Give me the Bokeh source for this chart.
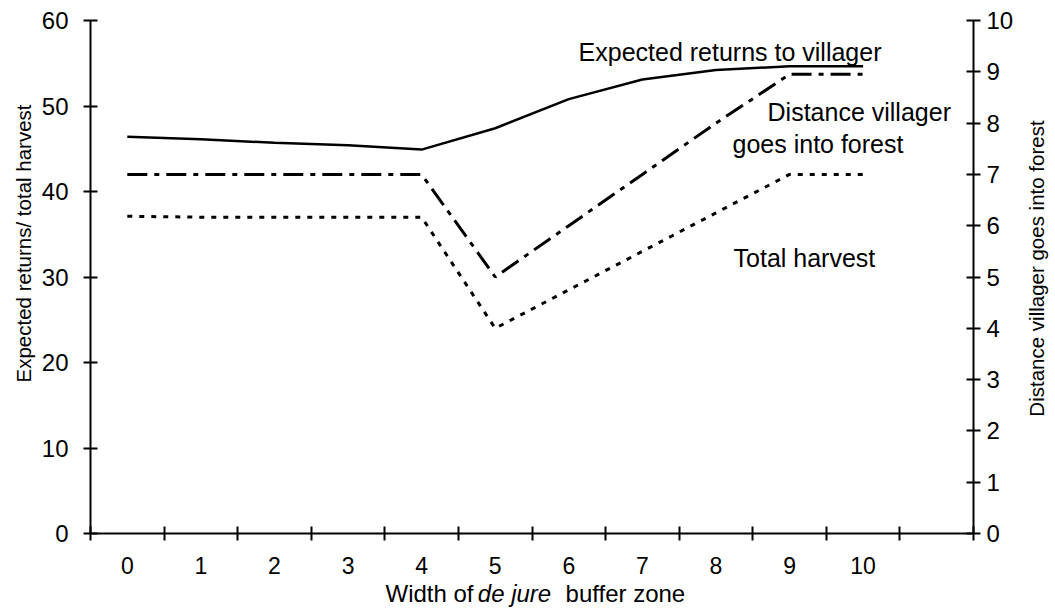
import math
from bokeh.plotting import figure
from bokeh.layouts import column
from bokeh.models import Range1d, LinearAxis, FixedTicker, Label
from bokeh.core.properties import value
from bokeh.embed import file_html
from bokeh.resources import INLINE

# ---- data ----
buffer_width = [0, 1, 2, 3, 4, 5, 6, 7, 8, 9, 10]
category_labels = ["0", "1", "2", "3", "4", "5", "6", "7", "8", "9", "10"]
expected_returns = [46.4, 46.1, 45.7, 45.4, 44.9, 47.4, 50.8, 53.1, 54.2, 54.65, 54.65]
total_harvest = [37.1, 37.0, 37.0, 37.0, 37.0, 24.0, 28.5, 33.0, 37.5, 42.0, 42.0]
distance_into_forest = [7, 7, 7, 7, 7, 5, 6, 7, 8, 8.95, 8.95]
left_ticks = [0, 10, 20, 30, 40, 50, 60]
right_ticks = [0, 1, 2, 3, 4, 5, 6, 7, 8, 9, 10]
x_title_parts = ["Width of", "de jure", "buffer zone"]

FONT = "Liberation Sans"

p = figure(width=1055, height=577, output_backend="svg", toolbar_location=None,
           x_range=Range1d(-0.5, 11.5), y_range=Range1d(0, 60),
           min_border_left=90, min_border_right=82, min_border_top=20, min_border_bottom=44)
p.outline_line_color = None
p.grid.visible = False
p.background_fill_color = "white"
p.border_fill_color = "white"

# x axis: labels at categories, ticks between categories
xa = p.xaxis[0]
xa.ticker = FixedTicker(ticks=buffer_width, minor_ticks=[i - 0.5 for i in range(13)])
xa.major_label_overrides = {float(v): s for v, s in zip(buffer_width, category_labels)}
xa.major_tick_in = 0
xa.major_tick_out = 0
xa.minor_tick_in = 7
xa.minor_tick_out = 7
xa.minor_tick_line_width = 2
xa.minor_tick_line_color = "black"
xa.axis_line_width = 2
xa.axis_line_color = "black"
xa.major_label_standoff = 16
xa.major_label_text_font = FONT
xa.major_label_text_font_size = "23px"
xa.major_label_text_color = "black"

# left y axis
ya = p.yaxis[0]
ya.ticker = FixedTicker(ticks=left_ticks)
ya.major_tick_in = 7
ya.major_tick_out = 7
ya.major_tick_line_width = 2
ya.minor_tick_line_color = None
ya.axis_line_width = 2
ya.major_label_standoff = 15
ya.major_label_text_font = FONT
ya.major_label_text_font_size = "24px"
ya.major_label_text_color = "black"

# right y axis
p.extra_y_ranges = {"dist": Range1d(0, 10)}
ra = LinearAxis(y_range_name="dist", ticker=FixedTicker(ticks=right_ticks))
ra.major_tick_in = 7
ra.major_tick_out = 7
ra.major_tick_line_width = 2
ra.minor_tick_line_color = None
ra.axis_line_width = 2
ra.major_label_standoff = 6
ra.major_label_text_font = FONT
ra.major_label_text_font_size = "24px"
ra.major_label_text_color = "black"
p.add_layout(ra, "right")

# series
p.line(buffer_width, expected_returns, line_color="black", line_width=2.5)
p.line(buffer_width, distance_into_forest, y_range_name="dist", line_color="black",
       line_width=3, line_dash="20 7 5 7")
p.line(buffer_width, total_harvest, line_color="black", line_width=3, line_dash="5 7")

def mk(x, y, text, size, align="left", angle=0.0, baseline="alphabetic", style="normal",
       units="data"):
    return Label(x=x, y=y, x_units=units, y_units=units, text=text,
                 text_font=FONT, text_font_size=size,
                 text_align=align, text_baseline=baseline, angle=angle,
                 text_color="black", text_font_style=style)

# in-plot annotations
p.add_layout(mk(8.191, 56.37, "Expected returns to villager", "25px", align="center"))
p.add_layout(mk(8.701, 49.24, "Distance villager", "25px"))
p.add_layout(mk(8.225, 45.61, "goes into forest", "25px"))
p.add_layout(mk(8.239, 32.22, "Total harvest", "25px"))

# rotated axis titles in the side panels (canvas pixel positions)
p.add_layout(mk(23, 243, "Expected returns/ total harvest", "20.5px", align="center",
                angle=math.pi / 2, baseline="middle", units="canvas"), "left")
p.add_layout(mk(1036, 268, "Distance villager goes into forest", "20.5px", align="center",
                angle=math.pi / 2, baseline="middle", units="canvas"), "right")

# x axis title strip (mixed roman / italic text), sharing the main x range
t = figure(width=1055, height=35, output_backend="svg", toolbar_location=None,
           x_range=p.x_range, y_range=Range1d(0, 35),
           x_axis_type=None, y_axis_type=None,
           min_border_left=90, min_border_right=82, min_border_top=0, min_border_bottom=0)
t.outline_line_color = None
t.grid.visible = False
t.background_fill_color = "white"
t.border_fill_color = "white"
TY = 19
t.text(x=[3.509], y=[TY], text=[x_title_parts[0]], text_align="left",
       text_baseline="alphabetic", text_font=value(FONT), text_font_size=value("24px"),
       text_color="black")
t.text(x=[5.262], y=[TY], text=[x_title_parts[1]], text_align="center",
       text_baseline="alphabetic", text_font=value(FONT), text_font_size=value("24px"),
       text_font_style="italic", text_color="black")
t.text(x=[5.956], y=[TY], text=[x_title_parts[2]], text_align="left",
       text_baseline="alphabetic", text_font=value(FONT), text_font_size=value("24px"),
       text_color="black")

layout = column(p, t, spacing=0)
open("out.html", "w").write(file_html(layout, INLINE))
